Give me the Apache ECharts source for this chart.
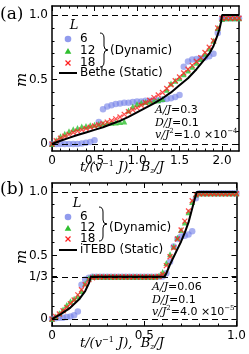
<!DOCTYPE html>
<html><head><meta charset="utf-8">
<script src="https://cdn.jsdelivr.net/npm/echarts@6/dist/echarts.min.js"></script>
<style>html,body{margin:0;padding:0;background:#fff}#c{width:249px;height:354px}</style>
</head><body><div id="c"></div>
<script>
// ---- Panel (a) data ----
const xA = [0,0.05,0.1,0.15,0.2,0.25,0.3,0.35,0.4,0.45,0.5,0.55,0.6,0.65,0.7,0.75,0.8,0.85,0.9,0.95,1.0,1.05,1.1,1.15,1.2,1.25,1.3,1.35,1.4,1.45,1.5,1.55,1.6,1.65,1.7,1.75,1.8,1.85,1.9,1.95,2.0,2.05,2.1,2.15,2.2];
const blueA = [0,0,0,0,0,0,0,0.005,0.01,0.015,0.03,0.17,0.27,0.29,0.30,0.31,0.315,0.32,0.32,0.325,0.33,0.33,0.335,0.335,0.34,0.34,0.345,0.35,0.355,0.365,0.38,0.60,0.64,0.655,0.66,0.665,0.67,0.68,0.70,0.86,0.97,0.975,0.975,0.975,0.975];
const greenA = [0,0.03,0.06,0.08,0.10,0.115,0.125,0.135,0.14,0.145,0.15,0.155,0.16,0.163,0.165,0.167,0.17,0.175,0.26,0.29,0.31,0.32,0.325,0.33,0.335,0.34,0.35,0.42,0.47,0.49,0.51,0.54,0.57,0.60,0.63,0.66,0.70,0.74,0.80,0.90,0.97,0.975,0.975,0.975,0.975];
const redA = [0,0.025,0.045,0.06,0.075,0.09,0.10,0.11,0.12,0.13,0.14,0.15,0.16,0.17,0.18,0.195,0.21,0.23,0.25,0.265,0.28,0.30,0.32,0.34,0.36,0.38,0.40,0.43,0.46,0.49,0.52,0.55,0.58,0.61,0.64,0.67,0.71,0.75,0.80,0.90,0.975,0.975,0.975,0.975,0.975];
const betheX = [0,0.1,0.2,0.3,0.4,0.5,0.6,0.7,0.8,0.9,1.0,1.1,1.2,1.3,1.4,1.5,1.6,1.7,1.8,1.85,1.9,1.94,1.97,1.99,2.0,2.2];
const betheM = [0,0.025,0.048,0.07,0.09,0.11,0.13,0.155,0.18,0.21,0.245,0.28,0.315,0.355,0.40,0.455,0.51,0.58,0.66,0.70,0.76,0.83,0.89,0.95,1.0,1.0];

// ---- Panel (b) data ----
const xB = [0,0.02,0.04,0.06,0.08,0.1,0.12,0.14,0.16,0.18,0.2,0.22,0.24,0.26,0.28,0.3,0.32,0.34,0.36,0.38,0.4,0.42,0.44,0.46,0.48,0.5,0.52,0.54,0.56,0.58,0.6,0.62,0.64,0.66,0.68,0.7,0.72,0.74,0.76,0.78,0.8,0.82,0.84,0.86,0.88,0.9,0.92,0.94,0.96,0.98,1.0];
const blueB = [0,0.005,0.01,0.01,0.015,0.02,0.03,0.06,0.27,0.31,0.325,0.333,0.333,0.333,0.333,0.333,0.333,0.333,0.333,0.333,0.333,0.333,0.333,0.333,0.333,0.333,0.333,0.333,0.333,0.333,0.335,0.36,0.45,0.57,0.63,0.65,0.655,0.665,0.69,0.95,0.99,0.99,0.99,0.99,0.99,0.99,0.99,0.99,0.99,0.99,0.99];
const greenB = [0,0.02,0.045,0.075,0.11,0.14,0.16,0.18,0.22,0.28,0.32,0.333,0.333,0.333,0.333,0.333,0.333,0.333,0.333,0.333,0.333,0.333,0.333,0.333,0.333,0.333,0.333,0.333,0.333,0.34,0.37,0.44,0.51,0.57,0.64,0.70,0.76,0.84,0.92,0.98,0.99,0.99,0.99,0.99,0.99,0.99,0.99,0.99,0.99,0.99,0.99];
const redB = [0,0.02,0.04,0.065,0.09,0.12,0.15,0.19,0.23,0.27,0.31,0.325,0.33,0.33,0.33,0.33,0.33,0.33,0.33,0.33,0.33,0.33,0.33,0.33,0.33,0.33,0.33,0.33,0.33,0.335,0.35,0.42,0.49,0.56,0.63,0.70,0.77,0.85,0.93,0.98,0.985,0.985,0.985,0.985,0.985,0.985,0.985,0.985,0.985,0.985,0.985];
const itebdX = [0,0.05,0.1,0.15,0.18,0.2,0.21,0.61,0.62,0.64,0.66,0.68,0.7,0.72,0.74,0.76,0.775,0.785,1.0];
const itebdM = [0,0.04,0.09,0.16,0.22,0.28,0.333,0.333,0.36,0.43,0.49,0.55,0.61,0.68,0.76,0.87,0.95,1.0,1.0];

// ---- ticks / labels ----
const xMajorA = [0,0.5,1.0,1.5,2.0];
const xMinorA = [0.1,0.2,0.3,0.4,0.6,0.7,0.8,0.9,1.1,1.2,1.3,1.4,1.6,1.7,1.8,1.9,2.1];
const xMajorB = [0,0.5,1.0];
const xMinorB = [0.1,0.2,0.3,0.4,0.6,0.7,0.8,0.9];
const yMajorA = [0,0.5,1.0];
const yMajorB = [0,1/3,0.5,1.0];
const yMinor = [0.1,0.2,0.3,0.4,0.6,0.7,0.8,0.9];
const dashA = [0,1];
const dashB = [0,1/3,1];
const legendSizes = ['6','12','18'];

const zip = (xs, ys) => xs.map((x,i)=>[x, ys[i]]);
const fmt = v => Math.abs(v) < 1e-9 ? '0' : (Math.abs(v-1/3) < 1e-6 ? '1/3' : v.toFixed(1));

const LBL = {fontFamily:'DejaVu Sans', fontSize:12, color:'#000'};
function axesFor(kind, grid, min, max, major, minor) {
  const pos = kind === 'x' ? ['bottom','top'] : ['left','right'];
  const out = [];
  pos.forEach((p, k) => {
    out.push({type:'value', gridIndex:grid, position:p, min, max,
      axisLine:{show:true, onZero:false, lineStyle:{color:'#000', width:1.5}},
      axisTick:{show:true, inside:true, length:5, customValues:major, lineStyle:{color:'#000', width:1}},
      axisLabel: k === 0 ? Object.assign({show:true, margin:4, customValues:major, formatter:fmt}, LBL) : {show:false},
      splitLine:{show:false}});
  });
  pos.forEach(p => {
    out.push({type:'value', gridIndex:grid, position:p, min, max,
      axisLine:{show:false, onZero:false},
      axisTick:{show:true, inside:true, length:2.5, customValues:minor, lineStyle:{color:'#000', width:1}},
      axisLabel:{show:false}, splitLine:{show:false}});
  });
  return out;
}

const xAxes = [].concat(axesFor('x',0,0,2.2,xMajorA,xMinorA), axesFor('x',1,0,1.0,xMajorB,xMinorB));
const yAxes = [].concat(axesFor('y',0,-0.054,1.07,yMajorA,yMinor), axesFor('y',1,-0.055,1.07,yMajorB,yMinor));

const C_BLUE = 'rgba(118,130,232,0.8)', C_GREEN = '#2fbf2f', C_RED = '#ff2020';
const XSYM = 'path://M0,0L8,8M8,0L0,8';

function panelSeries(ax, xs, blue, green, red, lx, ly, lname, dashes) {
  return [
    {type:'scatter', name:'6', xAxisIndex:ax, yAxisIndex:ax, data:zip(xs,blue), symbol:'circle', symbolSize:6.5,
      itemStyle:{color:C_BLUE}, z:2,
      markLine:{symbol:'none', silent:true, label:{show:false}, lineStyle:{color:'#000', type:[6,4], width:1.2},
        data:dashes.map(v=>({yAxis:v}))}},
    {type:'scatter', name:'12', xAxisIndex:ax, yAxisIndex:ax, data:zip(xs,green), symbol:'triangle', symbolSize:6,
      itemStyle:{color:C_GREEN}, z:3},
    {type:'scatter', name:'18', xAxisIndex:ax, yAxisIndex:ax, data:zip(xs,red), symbol:XSYM, symbolSize:5,
      itemStyle:{color:C_RED, borderColor:C_RED, borderWidth:1.3}, z:4},
    {type:'line', name:lname, xAxisIndex:ax, yAxisIndex:ax, data:zip(lx,ly), showSymbol:false, symbol:'none',
      lineStyle:{color:'#000', width:2}, itemStyle:{color:'#000'}, z:5}
  ];
}

const series = [].concat(
  panelSeries(0, xA, blueA, greenA, redA, betheX, betheM, 'Bethe (Static)', dashA),
  panelSeries(4, xB, blueB, greenB, redB, itebdX, itebdM, 'iTEBD (Static)', dashB)
);

const SERIF_I = {fontFamily:'DejaVu Serif', fontStyle:'italic', fontSize:11, color:'#000'};
const SERIF_I13 = {fontFamily:'DejaVu Serif', fontStyle:'italic', fontSize:13, color:'#000'};
const SANS = {fontFamily:'DejaVu Sans', fontSize:11, color:'#000'};
const SUP = {fontFamily:'DejaVu Serif', fontSize:7, color:'#000', padding:[0,0,7,0]};
const SUP13 = {fontFamily:'DejaVu Serif', fontSize:8, color:'#000', padding:[0,0,8,0]};
const SUB13 = {fontFamily:'DejaVu Serif', fontStyle:'italic', fontSize:8, color:'#000', padding:[6,0,0,0]};
const RICH = {i:SERIF_I, n:SANS, s:SUP, I:SERIF_I13, S:SUP13, B:SUB13};

function txt(x, y, text) {
  return {type:'text', x, y, silent:true,
    style:{text, rich:RICH, align:'left', verticalAlign:'middle', fill:'#000', font:'11px DejaVu Sans'}};
}
function plain(x, y, text, font, align) {
  return {type:'text', x, y, silent:true, style:{text, font, fill:'#000', align:align||'left', verticalAlign:'middle'}};
}
function brace(x, y0, y1) {
  const ym = (y0+y1)/2, w = 4;
  const st = {stroke:'#000', lineWidth:1, fill:'none'};
  return [
    {type:'bezierCurve', silent:true, shape:{x1:x-4, y1:y0, x2:x, y2:y0+5, cpx1:x, cpy1:y0}, style:st},
    {type:'line', silent:true, shape:{x1:x, y1:y0+5, x2:x, y2:ym-4}, style:st},
    {type:'bezierCurve', silent:true, shape:{x1:x, y1:ym-4, x2:x+w, y2:ym, cpx1:x, cpy1:ym}, style:st},
    {type:'bezierCurve', silent:true, shape:{x1:x+w, y1:ym, x2:x, y2:ym+4, cpx1:x, cpy1:ym}, style:st},
    {type:'line', silent:true, shape:{x1:x, y1:ym+4, x2:x, y2:y1-5}, style:st},
    {type:'bezierCurve', silent:true, shape:{x1:x, y1:y1-5, x2:x-4, y2:y1, cpx1:x, cpy1:y1}, style:st}
  ];
}
// legend drawn as graphic: rows at y0, y0+dy, y0+2dy, line row at yl
function legendBlock(y0, dy, yl, lname, lx) {
  const F = '12px DejaVu Sans';
  const ix = 68;
  return [
    plain(lx, y0 - 13, 'L', 'italic 13px DejaVu Serif', 'center'),
    {type:'circle', silent:true, shape:{cx:ix, cy:y0, r:3.3}, style:{fill:C_BLUE}},
    plain(80, y0, legendSizes[0], F),
    {type:'polygon', silent:true, shape:{points:[[ix-3.3,y0+dy+2.8],[ix+3.3,y0+dy+2.8],[ix,y0+dy-3]]}, style:{fill:C_GREEN}},
    plain(80, y0+dy, legendSizes[1], F),
    {type:'line', silent:true, shape:{x1:ix-2.5, y1:y0+2*dy-2.5, x2:ix+2.5, y2:y0+2*dy+2.5}, style:{stroke:C_RED, lineWidth:1.3}},
    {type:'line', silent:true, shape:{x1:ix+2.5, y1:y0+2*dy-2.5, x2:ix-2.5, y2:y0+2*dy+2.5}, style:{stroke:C_RED, lineWidth:1.3}},
    plain(80, y0+2*dy, legendSizes[2], F),
    {type:'line', silent:true, shape:{x1:59, y1:yl, x2:77, y2:yl}, style:{stroke:'#000', lineWidth:2}},
    plain(80, yl, lname, F)
  ];
}

const xname = '{I|t/(v}{S|−1}{I| J),  B}{B|z}{I|/J}';
const graphic = [].concat(
  [
    plain(0, 15, '(a)', '17px DejaVu Serif'),
    plain(0, 190, '(b)', '17px DejaVu Serif'),
    {type:'text', x:22, y:80, rotation:Math.PI/2, silent:true, style:{text:'m', font:'italic 15px DejaVu Serif', fill:'#000', align:'center', verticalAlign:'middle'}},
    {type:'text', x:22, y:257, rotation:Math.PI/2, silent:true, style:{text:'m', font:'italic 15px DejaVu Serif', fill:'#000', align:'center', verticalAlign:'middle'}},
    txt(80, 168, xname),
    txt(80, 344, xname),
    plain(110, 51, '(Dynamic)', '12px DejaVu Sans'),
    plain(109, 228, '(Dynamic)', '12px DejaVu Sans'),
    txt(155, 110, '{i|A/J}{n|=0.3}'),
    txt(155, 123, '{i|D/J}{n|=0.1}'),
    txt(155, 135, '{i|v/J}{s|2}{n|=1.0 ×10}{s|−4}'),
    txt(152, 287, '{i|A/J}{n|=0.06}'),
    txt(152, 300, '{i|D/J}{n|=0.1}'),
    txt(152, 312, '{i|v/J}{s|2}{n|=4.0 ×10}{s|−5}')
  ],
  legendBlock(39, 12, 73, 'Bethe (Static)', 74),
  legendBlock(217, 11, 250, 'iTEBD (Static)', 77),
  brace(104, 33, 67),
  brace(103, 207, 241)
);

const chart = echarts.init(document.getElementById('c'), null, {renderer:'canvas'});
chart.setOption({
  animation:false,
  backgroundColor:'#fff',
  grid:[{left:52, top:6, width:187, height:145}, {left:52, top:183, width:188, height:143}],
  xAxis:xAxes, yAxis:yAxes,
  series, graphic
});
</script></body></html>
